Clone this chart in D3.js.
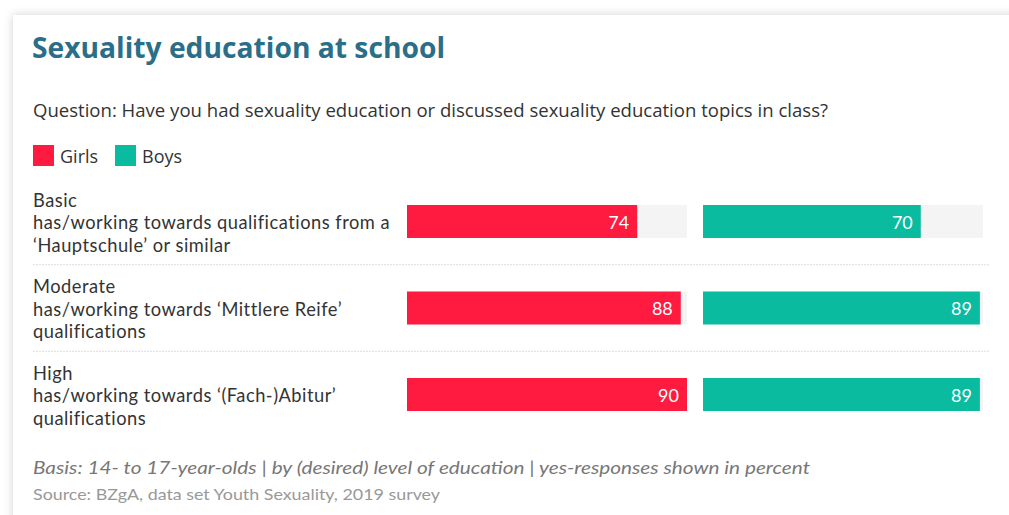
<!DOCTYPE html>
<meta charset="utf-8">
<style>
body { margin: 0; background: #fff; }
svg { display: block; font-family: "Open Sans", Lato, sans-serif; }
</style>
<svg width="1009" height="515"></svg>
<script src="https://cdn.jsdelivr.net/npm/d3@7"></script>
<script>
// data
var categories = ["Basic", "Moderate", "High"];
var descriptions = [
  ["has/working towards qualifications from a", "\u2018Hauptschule\u2019 or similar"],
  ["has/working towards \u2018Mittlere Reife\u2019", "qualifications"],
  ["has/working towards \u2018(Fach-)Abitur\u2019", "qualifications"]
];
var girls = [74, 88, 90];
var boys = [70, 89, 89];
var seriesNames = ["Girls", "Boys"];

var title = "Sexuality education at school";
var question = "Question: Have you had sexuality education or discussed sexuality education topics in class?";
var basis = "Basis: 14- to 17-year-olds | by (desired) level of education | yes-responses shown in percent";
var source = "Source: BZgA, data set Youth Sexuality, 2019 survey";

var colors = { Girls: "#ff1a40", Boys: "#0abb9f" };

var svg = d3.select("svg");

// card with shadow
var defs = svg.append("defs");
var f = defs.append("filter").attr("id", "shadow")
    .attr("x", "-5%").attr("y", "-10%").attr("width", "110%").attr("height", "120%");
f.append("feDropShadow").attr("dx", 0).attr("dy", 0).attr("stdDeviation", 5)
    .attr("flood-color", "#000").attr("flood-opacity", 0.18);

svg.append("rect").attr("x", 13).attr("y", 15).attr("width", 1040).attr("height", 540)
    .attr("fill", "#fff").attr("filter", "url(#shadow)");

svg.append("text").attr("x", 32).attr("y", 58)
    .attr("font-size", 28).attr("font-weight", 700).attr("fill", "#2b6e89")
    .attr("textLength", 413).attr("lengthAdjust", "spacingAndGlyphs")
    .text(title);

svg.append("text").attr("x", 33).attr("y", 117)
    .attr("font-size", 17.5).attr("fill", "#333")
    .attr("textLength", 795).attr("lengthAdjust", "spacingAndGlyphs")
    .text(question);

// legend
var legend = svg.selectAll("g.legend").data(seriesNames).enter().append("g")
    .attr("class", "legend")
    .attr("transform", function(d, i) { return "translate(" + (33 + i * 82) + ",145)"; });
legend.append("rect").attr("width", 21).attr("height", 21)
    .attr("fill", function(d) { return colors[d]; });
legend.append("text").attr("x", 27).attr("y", 18)
    .attr("font-size", 18).attr("fill", "#333")
    .text(function(d) { return d; });

// scales
var y = d3.scalePoint().domain(categories).range([221.5, 394.5]);
var x = d3.scaleLinear().domain([0, d3.max(girls.concat(boys))]).range([0, 280]);
var colX = { Girls: 407, Boys: 703 };
var barH = 33;

// separators
var step = y.step();
svg.selectAll("line.sep").data(categories.slice(1)).enter().append("line")
    .attr("class", "sep")
    .attr("x1", 33).attr("x2", 990)
    .attr("y1", function(d) { return y(d) - step / 2; })
    .attr("y2", function(d) { return y(d) - step / 2; })
    .attr("stroke", "#ddd").attr("stroke-width", 1).attr("stroke-dasharray", "2,1");

// row labels, one text per line
var rows = svg.selectAll("g.row").data(categories).enter().append("g")
    .attr("class", "row")
    .attr("transform", function(d) { return "translate(0," + y(d) + ")"; });

rows.selectAll("text")
    .data(function(d, i) { return [d].concat(descriptions[i]); })
    .enter().append("text")
    .attr("x", 33).attr("y", function(d, j) { return -15 + j * 22.5; })
    .attr("font-family", "Lato, sans-serif")
    .attr("font-size", 18.3).attr("letter-spacing", 0.5).attr("fill", "#333")
    .text(function(d) { return d; });

// bars
var series = [{ name: "Girls", values: girls }, { name: "Boys", values: boys }];
series.forEach(function(s) {
  var g = svg.append("g").attr("transform", "translate(" + colX[s.name] + ",0)");
  g.selectAll("rect.track").data(categories).enter().append("rect")
      .attr("class", "track")
      .attr("x", 0).attr("y", function(d) { return y(d) - barH / 2; })
      .attr("width", x.range()[1]).attr("height", barH)
      .attr("fill", "#f4f4f4");
  g.selectAll("rect.bar").data(s.values).enter().append("rect")
      .attr("class", "bar")
      .attr("x", 0).attr("y", function(d, i) { return y(categories[i]) - barH / 2; })
      .attr("width", function(d) { return x(d); }).attr("height", barH)
      .attr("fill", colors[s.name]);
  g.selectAll("text.val").data(s.values).enter().append("text")
      .attr("class", "val")
      .attr("x", function(d) { return x(d) - 8; })
      .attr("y", function(d, i) { return y(categories[i]) + 7; })
      .attr("text-anchor", "end").attr("font-size", 18).attr("fill", "#fff")
      .attr("font-family", "Lato, sans-serif")
      .text(function(d) { return d; });
});

// footnotes
svg.append("text").attr("x", 33).attr("y", 474)
    .attr("font-size", 17).attr("font-style", "italic").attr("fill", "#777")
    .attr("font-family", "Lato, sans-serif")
    .attr("textLength", 777).attr("lengthAdjust", "spacingAndGlyphs")
    .text(basis);
svg.append("text").attr("x", 33).attr("y", 500)
    .attr("font-size", 15).attr("fill", "#999")
    .attr("font-family", "Lato, sans-serif")
    .attr("textLength", 407).attr("lengthAdjust", "spacingAndGlyphs")
    .text(source);
</script>
